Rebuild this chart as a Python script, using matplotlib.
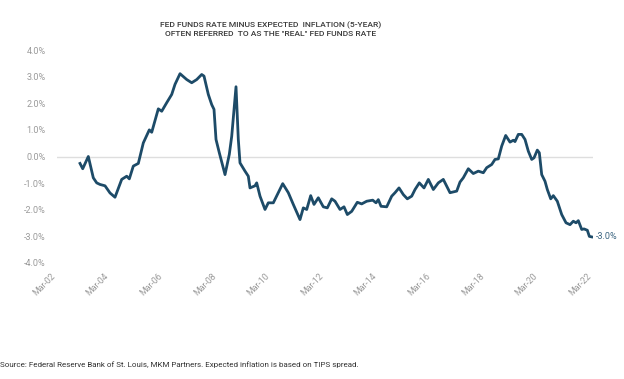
import matplotlib
matplotlib.use("Agg")
import matplotlib.pyplot as plt
from matplotlib.transforms import ScaledTranslation

# ---- data ----
years = [
    2003.025, 2003.126, 2003.335, 2003.521, 2003.648, 2003.771, 2003.958, 2004.145,
    2004.331, 2004.581, 2004.768, 2004.865, 2005.014, 2005.201, 2005.387, 2005.611,
    2005.701, 2005.947, 2006.074, 2006.260, 2006.447, 2006.570, 2006.757, 2007.007,
    2007.193, 2007.380, 2007.566, 2007.652, 2007.813, 2007.939, 2008.025, 2008.100,
    2008.223, 2008.436, 2008.596, 2008.686, 2008.846, 2008.932, 2008.995, 2009.182,
    2009.305, 2009.368, 2009.555, 2009.618, 2009.742, 2009.928, 2010.051, 2010.238,
    2010.425, 2010.589, 2010.798, 2010.984, 2011.234, 2011.357, 2011.484, 2011.633,
    2011.756, 2011.917, 2012.104, 2012.253, 2012.417, 2012.540, 2012.727, 2012.876,
    2013.000, 2013.163, 2013.372, 2013.536, 2013.723, 2013.947, 2014.070, 2014.156,
    2014.257, 2014.469, 2014.656, 2014.779, 2014.928, 2015.089, 2015.238, 2015.402,
    2015.526, 2015.686, 2015.861, 2016.022, 2016.209, 2016.395, 2016.581, 2016.831,
    2017.081, 2017.204, 2017.327, 2017.514, 2017.700, 2017.887, 2018.074, 2018.200,
    2018.387, 2018.510, 2018.634, 2018.760, 2018.909, 2019.070, 2019.193, 2019.256,
    2019.380, 2019.507, 2019.630, 2019.753, 2019.880, 2019.966, 2020.089, 2020.164,
    2020.253, 2020.376, 2020.462, 2020.589, 2020.686, 2020.835, 2020.999, 2021.160,
    2021.309, 2021.432, 2021.533, 2021.619, 2021.745, 2021.831, 2021.955, 2022.030,
    2022.119,
]
real_rate = [
    -0.26, -0.46, 0.00, -0.80, -0.99, -1.05, -1.10, -1.37,
    -1.53, -0.86, -0.74, -0.84, -0.36, -0.26, 0.51, 1.00,
    0.91, 1.79, 1.70, 2.02, 2.33, 2.71, 3.11, 2.89,
    2.77, 2.89, 3.08, 3.02, 2.33, 1.95, 1.77, 0.64,
    0.14, -0.68, 0.08, 0.76, 2.62, 0.64, -0.24, -0.55,
    -0.74, -1.18, -1.10, -0.99, -1.49, -1.99, -1.74, -1.74,
    -1.36, -1.02, -1.36, -1.80, -2.37, -1.93, -1.99, -1.47,
    -1.80, -1.55, -1.89, -1.93, -1.59, -1.68, -1.99, -1.89,
    -2.18, -2.06, -1.72, -1.78, -1.68, -1.64, -1.74, -1.62,
    -1.87, -1.89, -1.49, -1.36, -1.18, -1.43, -1.59, -1.49,
    -1.24, -0.99, -1.18, -0.86, -1.24, -0.99, -0.86, -1.36,
    -1.30, -0.96, -0.80, -0.46, -0.64, -0.55, -0.61, -0.42,
    -0.30, -0.11, -0.09, 0.39, 0.79, 0.54, 0.61, 0.56,
    0.83, 0.83, 0.64, 0.20, -0.11, -0.05, 0.24, 0.14,
    -0.68, -0.93, -1.24, -1.59, -1.47, -1.68, -2.18, -2.49,
    -2.56, -2.43, -2.49, -2.41, -2.74, -2.72, -2.77, -3.00,
    -3.02,
]
tick_years = [2002, 2004, 2006, 2008, 2010, 2012, 2014, 2016, 2018, 2020, 2022]
tick_labels = ["Mar-02", "Mar-04", "Mar-06", "Mar-08", "Mar-10", "Mar-12",
               "Mar-14", "Mar-16", "Mar-18", "Mar-20", "Mar-22"]
y_ticks = [4, 3, 2, 1, 0, -1, -2, -3, -4]
last_label = "-3.0%"
title = 'FED FUNDS RATE MINUS EXPECTED  INFLATION (5-YEAR)\nOFTEN REFERRED  TO AS THE "REAL" FED FUNDS RATE'
source = "Source: Federal Reserve Bank of St. Louis, MKM Partners. Expected inflation is based on TIPS spread."

LINE = "#1d4b68"
GRAY = "#9a9a9a"

fig = plt.figure(figsize=(6.24, 3.79), dpi=100)
ax = fig.add_axes([57/624, 1 - 263/379, 536/624, 213/379])

ax.axhline(0, color="#dedede", lw=1.0, zorder=1)
ax.plot(years, real_rate, color=LINE, lw=2.0, solid_joinstyle="round", zorder=3)

ax.set_xlim(2002 + 2/12, 2022 + 2/12)
ax.set_ylim(-4, 4)
ax.set_xticks([y + 2/12 for y in tick_years])
ax.set_xticklabels(tick_labels, rotation=45, ha="right", va="top",
                   fontsize=6.3, color=GRAY, family="Roboto")
offset = ScaledTranslation(3/100, 0, fig.dpi_scale_trans)
for lab in ax.get_xticklabels():
    lab.set_transform(lab.get_transform() + offset)
ax.set_yticks(y_ticks)
ax.set_yticklabels([f"{v:.1f}%" for v in y_ticks], fontsize=6.5, color=GRAY, family="Roboto")
ax.tick_params(axis="both", length=0)
ax.tick_params(axis="y", pad=8)
ax.tick_params(axis="x", pad=6)
for s in ax.spines.values():
    s.set_visible(False)

ax.annotate(last_label, xy=(years[-1], real_rate[-1]), xytext=(3, 0),
            textcoords="offset points", va="center", ha="left",
            fontsize=6.5, color="#3a6480", family="Roboto")

fig.text(271/624, 1 - 29/379, title, ha="center", va="center", fontsize=6.1,
         color="#3a3a3a", family="Roboto", fontweight="medium", linespacing=1.45)
fig.text(0, 1 - 365/379, source, ha="left", va="center", fontsize=5.8,
         color="#333333", family="Roboto")

fig.savefig("out.png", dpi=100)
